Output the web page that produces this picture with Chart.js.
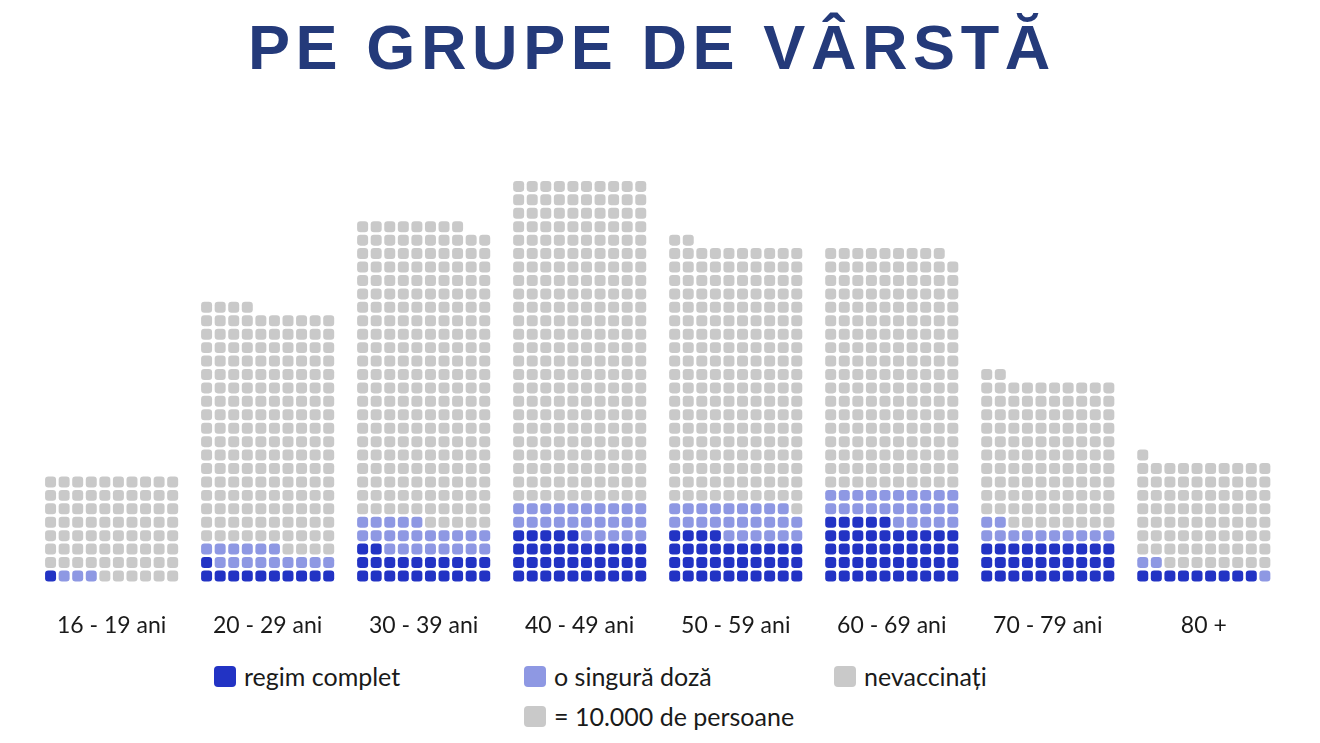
<!DOCTYPE html>
<html lang="ro">
<head>
<meta charset="utf-8">
<title>Vaccinare pe grupe de vârstă</title>
<script src="https://cdn.jsdelivr.net/npm/chart.js@4.4.1/dist/chart.umd.min.js"></script>
<style>
    body { margin: 0; width: 1320px; height: 743px; background: #fff; position: relative; overflow: hidden; font-family: Lato, sans-serif; }
    #titlu { position: absolute; left: 248px; top: 15px; margin: 0; font-family: "Liberation Sans", Arial, sans-serif; font-weight: bold; font-size: 63px; line-height: 64px; letter-spacing: 5.6px; color: #243a7a; white-space: nowrap; }
    #zona { position: absolute; left: 0; top: 0; width: 1320px; height: 661px; }
    .leg { position: absolute; display: flex; align-items: center; font-size: 25px; line-height: 30px; color: #1a1a1a; white-space: nowrap; }
    .leg .m { width: 22px; height: 21px; border-radius: 4px; margin-right: 8px; }
</style>
</head>
<body>
<h1 id="titlu">PE GRUPE DE VÂRSTĂ</h1>
<div id="zona"><canvas id="graficVaccinare"></canvas></div>

<div class="leg" style="left:214px; top:661px;"><span class="m" style="background:#2233c4"></span>regim complet</div>
<div class="leg" style="left:524px; top:661px;"><span class="m" style="background:#8e98e3"></span>o singură doză</div>
<div class="leg" style="left:834px; top:661px;"><span class="m" style="background:#c9c9c9"></span>nevaccinați</div>
<div class="leg" style="left:524px; top:701px;"><span class="m" style="background:#c9c9c9"></span>= 10.000 de persoane</div>

<script>
// fiecare pătrățel = 10.000 de persoane
const grupe = ['16 - 19 ani', '20 - 29 ani', '30 - 39 ani', '40 - 49 ani', '50 - 59 ani', '60 - 69 ani', '70 - 79 ani', '80 +'];
const regimComplet = [1, 11, 22, 35, 34, 45, 30, 9];
const singuraDoza = [3, 15, 23, 25, 25, 25, 12, 3];
const nevaccinati = [76, 178, 223, 240, 193, 179, 110, 79];

const coloane = 10;      // pătrățele pe rând
const pasGrupa = 11.5;   // distanța dintre grupe, în coloane

// Umple grila de jos în sus, de la stânga la dreapta
function construiesteGrila() {
    let complet = [], doza = [], nevacc = [];
    grupe.forEach((g, i) => {
        let total = regimComplet[i] + singuraDoza[i] + nevaccinati[i];
        for (let k = 0; k < total; k++) {
            let punct = { x: i * pasGrupa + (k % coloane), y: Math.floor(k / coloane) };
            if (k < regimComplet[i]) complet.push(punct);
            else if (k < regimComplet[i] + singuraDoza[i]) doza.push(punct);
            else nevacc.push(punct);
        }
    });
    return { complet, doza, nevacc };
}

function setStil(label, data, culoare) {
    return {
        label: label,
        data: data,
        pointStyle: 'rectRounded',
        pointRadius: 6.4,
        pointHoverRadius: 6.4,
        pointBorderWidth: 0,
        backgroundColor: culoare,
        borderWidth: 0
    };
}

function deseneazaGrafic() {
    let grila = construiesteGrila();
    const ctx = document.getElementById('graficVaccinare').getContext('2d');

    new Chart(ctx, {
        type: 'scatter',
        data: {
            datasets: [
                setStil('regim complet', grila.complet, '#2233c4'),
                setStil('o singură doză', grila.doza, '#8e98e3'),
                setStil('nevaccinați', grila.nevacc, '#c9c9c9')
            ]
        },
        options: {
            responsive: true,
            maintainAspectRatio: false,
            animation: false,
            layout: { padding: { left: 37, right: 28, top: 173, bottom: 0 } },
            plugins: {
                legend: { display: false },
                tooltip: { enabled: false }
            },
            scales: {
                x: {
                    type: 'linear',
                    min: -1,
                    max: 91.5,
                    grid: { display: false, drawTicks: false },
                    border: { display: false },
                    afterBuildTicks: function(scale) {
                        scale.ticks = grupe.map((g, i) => ({ value: i * pasGrupa + (coloane - 1) / 2 }));
                    },
                    ticks: {
                        autoSkip: false,
                        maxRotation: 0,
                        padding: 22,
                        color: '#1a1a1a',
                        font: { family: 'Lato', size: 23, lineHeight: 1.2 },
                        callback: function(valoare) {
                            let idx = Math.round((valoare - (coloane - 1) / 2) / pasGrupa);
                            return grupe[idx];
                        }
                    }
                },
                y: {
                    type: 'linear',
                    min: -1,
                    max: 30,
                    display: false
                }
            }
        }
    });
}

window.onload = function() {
    deseneazaGrafic();
};
</script>
</body>
</html>
